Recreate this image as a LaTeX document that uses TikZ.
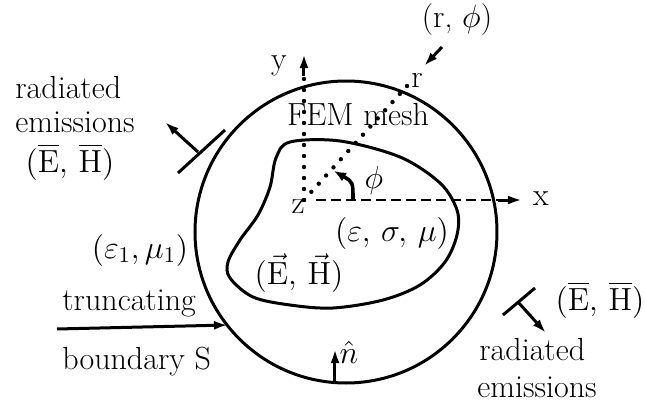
\RequirePackage{fix-cm}
\documentclass[tikz,border=0pt]{standalone}
\usepackage{amsmath}
\usetikzlibrary{arrows.meta}

\begin{document}
\begin{tikzpicture}[x=0.5pt, y=-0.5pt,
  every node/.style={font=\fontsize{16}{19}\selectfont, inner sep=1pt},
  bnd/.style={line width=1.5pt},
  dotln/.style={line width=2.2pt, line cap=round, dash pattern=on 0pt off 5.5pt},
  dashln/.style={line width=1.4pt, dash pattern=on 5pt off 2.5pt},
  arr/.style={line width=1.5pt, -{Latex[length=7pt,width=4.5pt]}},
  lbl/.style={anchor=west}]
\useasboundingbox (0,0) rectangle (645,402);

% geometry
\coordinate (C) at (346,232);
\coordinate (O) at (304,200);
\coordinate (xs) at (316,200);
\coordinate (xa) at (498,200);
\coordinate (xe) at (522,200);
\coordinate (yt) at (304,76);
\coordinate (ye) at (304,54);
\coordinate (R) at (407,86);

% truncating boundary and scatterer
\draw[bnd] (C) circle[radius=151];
\draw[bnd] plot[smooth cycle, tension=0.55] coordinates {
  (290,142) (340,141) (400,157) (440,183) (457,210) (457,235) (445,262)
  (420,285) (383,300) (333,308) (290,305) (253,297) (230,278) (228,262)
  (240,240) (258,215) (270,187) (276,158)};

% axes
\draw[dotln] (O) -- (yt);
\draw[arr] (yt) -- (ye);
\draw[dashln] (xs) -- (xa);
\draw[arr] (xa) -- (xe);
\draw[dotln] (O) -- (R);
\fill (R) circle[radius=2.2];
\coordinate (p1) at (353,200);
\coordinate (p2) at (334,171);
\draw[line width=1.8pt, -{Latex[length=6pt,width=5pt]}] (p1) .. controls (353,182) .. (p2);

\node (ylbl) at (279,66) {y};
\node (xlbl) at (541,199) {x};
\node (zlbl) at (298,207) {z};
\node (rlbl) at (417,80) {r};
\node (phil) at (374,180) {$\phi$};
\node (rphi) at (457,20) {(r, $\phi$)};
\coordinate (ra) at (442,47);
\coordinate (rb) at (424,66);
\draw[arr] (ra) -- (rb);

\node (mesh) at (358,115) {FEM mesh};
\node (mat) at (392,233) {$(\varepsilon,\,\sigma,\,\mu)$};
\node (fin) at (299,273) {$(\vec{\mathrm{E}},\,\vec{\mathrm{H}})$};
\node (mat1) at (140,250) {$(\varepsilon_1,\mu_1)$};

% boundary S
\node[lbl] (trunc) at (60,303) {truncating};
\node[lbl] (bnds) at (60,362) {boundary S};
\coordinate (ta) at (57,329);
\coordinate (tb) at (228,325);
\draw[arr] (ta) -- (tb);
\coordinate (nb) at (335,383);
\coordinate (nt) at (335,349);
\draw[arr] (nb) -- (nt);
\node (nlbl) at (349,352) {$\hat{n}$};

% radiated emissions, left
\node[lbl] (rad1) at (13,88) {radiated};
\node[lbl] (emi1) at (13,122) {emissions};
\node (fl1) at (70,162) {$(\overline{\mathrm{E}},\,\overline{\mathrm{H}})$};
\coordinate (la) at (178,173);
\coordinate (lb) at (225,130);
\coordinate (lm) at (198,152);
\coordinate (lt) at (165,122);
\draw[bnd] (la) -- (lb);
\draw[arr] (lm) -- (lt);

% radiated emissions, right
\node[lbl] (rad2) at (477,350) {radiated};
\node[lbl] (emi2) at (475,387) {emissions};
\node (fr2) at (600,300) {$(\overline{\mathrm{E}},\,\overline{\mathrm{H}})$};
\coordinate (ra2) at (503,315);
\coordinate (rb2) at (535,288);
\coordinate (rm2) at (518,302);
\coordinate (rt2) at (546,333);
\draw[bnd] (ra2) -- (rb2);
\draw[arr] (rm2) -- (rt2);
\end{tikzpicture}
\end{document}
